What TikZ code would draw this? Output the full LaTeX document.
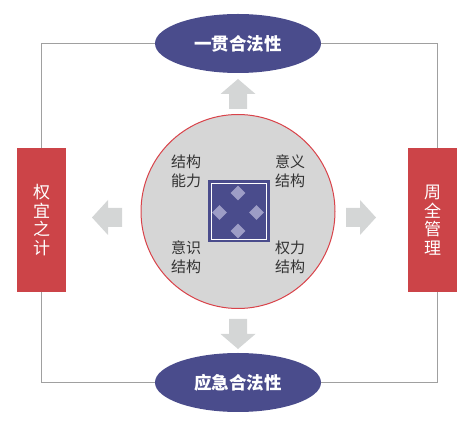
\documentclass[tikz,border=0pt]{standalone}
\usepackage{fontspec}
\newfontfamily\cjk{Noto Sans CJK SC}
\usetikzlibrary{shapes.geometric}

\definecolor{navy}{RGB}{74,76,140}
\definecolor{brick}{RGB}{204,68,72}
\definecolor{disc}{RGB}{214,214,214}
\definecolor{ring}{RGB}{217,67,74}
\definecolor{arrowgray}{RGB}{212,214,214}
\definecolor{lilac}{RGB}{157,157,198}
\definecolor{framegray}{RGB}{160,160,160}

\tikzset{
  pill/.style={ellipse,fill=navy,minimum width=166pt,minimum height=59pt,inner sep=0pt,
    text=white,font=\cjk\bfseries\fontsize{17.5}{20}\selectfont},
  bar/.style={rectangle,fill=brick,minimum width=49pt,minimum height=144pt,inner sep=0pt,
    text=white,align=center,font=\cjk\fontsize{17}{18.5}\selectfont},
  label/.style={align=center,text=black!80,font=\cjk\fontsize{15}{19}\selectfont},
  gem/.style={diamond,fill=lilac,minimum size=15pt,inner sep=0pt},
  frame/.style={framegray,line width=0.8pt}
}

\begin{document}
\begin{tikzpicture}[x=1pt,y=-1pt]
  \useasboundingbox (0,0) rectangle (472,427);

  %% four sides
  \node[pill] (consist) at (238,43.5) {一贯合法性};
  \node[pill] (emerg) at (238,382.5) {应急合法性};
  \node[bar] (expedient) at (41.5,220) {权\\宜\\之\\计};
  \node[bar] (overall) at (432.5,220) {周\\全\\管\\理};

  %% frame
  \draw[frame] (consist.west) -| (expedient.north);
  \draw[frame] (expedient.south) |- (emerg.west);
  \draw[frame] (consist.east) -| ([xshift=4.5pt]overall.north);
  \draw[frame] ([xshift=4.5pt]overall.south) |- (emerg.east);

  %% centre
  \node[circle,draw=ring,line width=1pt,fill=disc,minimum size=194pt] (core) at (238,211.5) {};
  \node[fill=navy,minimum size=62pt,inner sep=0pt] (sq) at (239,211.5) {};
  \draw[white,line width=0.9pt] ([shift={(3.5,3.5)}]sq.north west) rectangle ([shift={(-3.5,-3.5)}]sq.south east);
  \node[gem] (g1) at (238,193) {};
  \node[gem] (g2) at (219.5,212.5) {};
  \node[gem] (g3) at (256.5,212.5) {};
  \node[gem] (g4) at (238,231) {};

  \node[label] (ability) at (186,171) {结构\\能力};
  \node[label] (meaning) at (290,171) {意义\\结构};
  \node[label] (cognition) at (186,257) {意识\\结构};
  \node[label] (power) at (290,257) {权力\\结构};

  %% arrows
  \fill[arrowgray] (229,109) -- (229,94) -- (220.5,94) -- (238,79) -- (255.5,94) -- (247,94) -- (247,109) -- cycle;
  \fill[arrowgray] (229,319) -- (229,334) -- (220.5,334) -- (238,349) -- (255.5,334) -- (247,334) -- (247,319) -- cycle;
  \fill[arrowgray] (122,208) -- (108,208) -- (108,200) -- (92,217.5) -- (108,235) -- (108,227) -- (122,227) -- cycle;
  \fill[arrowgray] (346,208) -- (360,208) -- (360,200) -- (376,217.5) -- (360,235) -- (360,227) -- (346,227) -- cycle;

\end{tikzpicture}
\end{document}
